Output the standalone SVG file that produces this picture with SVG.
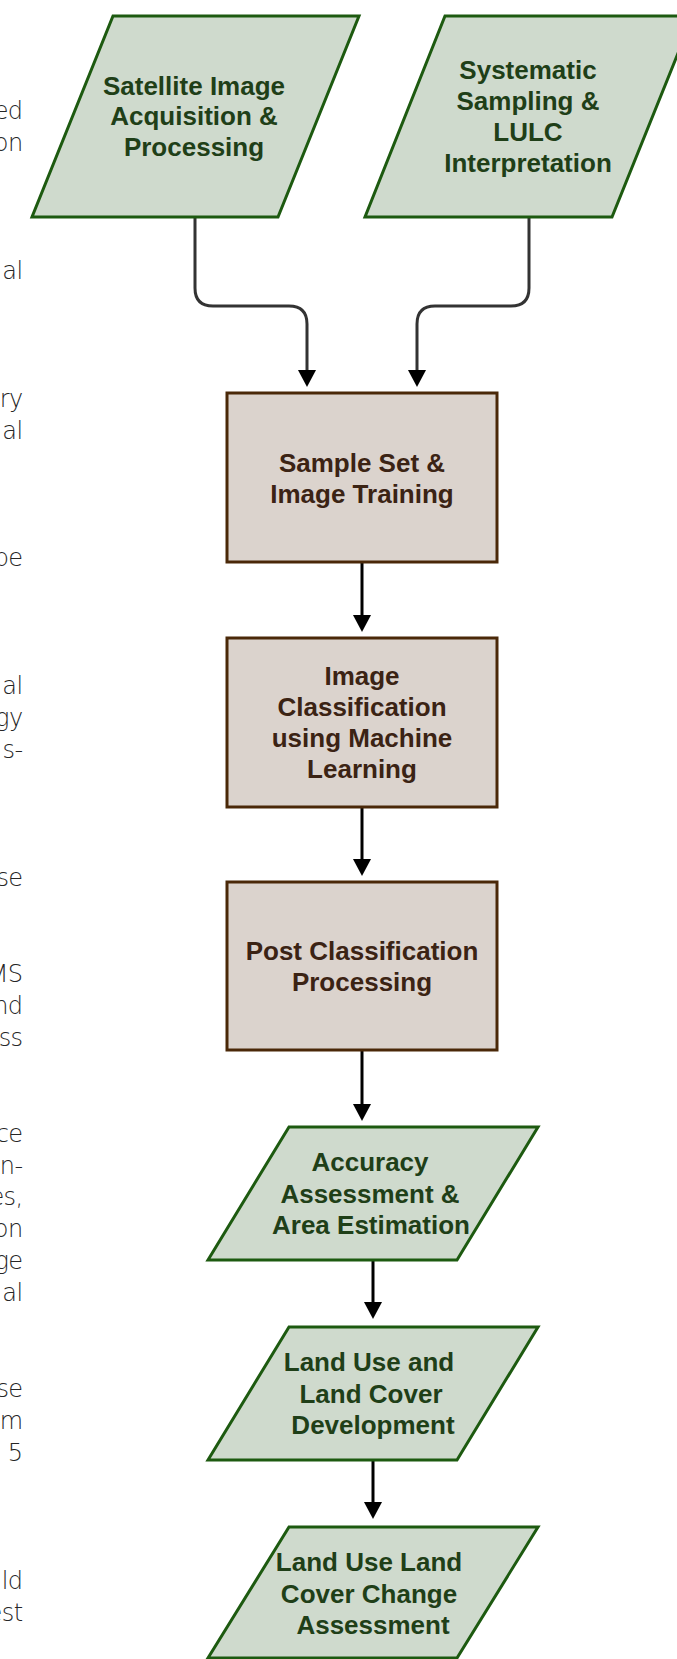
<svg xmlns="http://www.w3.org/2000/svg" width="677" height="1659" viewBox="0 0 677 1659">
<style>
.para{fill:#cfdacd;stroke:#1d5a10;stroke-width:3;stroke-linejoin:miter}
.box{fill:#dbd3cd;stroke:#4a2808;stroke-width:3}
.pt{font-family:"Liberation Sans",Arial,sans-serif;font-weight:bold;font-size:26px;fill:#1f3f18;text-anchor:middle}
.bt{font-family:"Liberation Sans",Arial,sans-serif;font-weight:bold;font-size:26px;fill:#3b2314;text-anchor:middle}
.frag{font-family:"DejaVu Sans",sans-serif;font-weight:300;font-size:24px;letter-spacing:-0.6px;fill:#262626;text-anchor:end}
.con{fill:none;stroke:#000;stroke-width:3}
.con2{fill:none;stroke:#333;stroke-width:3}
</style>
<defs>
<marker id="ah" markerUnits="userSpaceOnUse" markerWidth="20" markerHeight="20" refX="9" refY="9" orient="auto">
<path d="M0,0 L17,9 L0,18 z" fill="#000"/>
</marker>
</defs>
<rect width="677" height="1659" fill="#fff"/>
<g id="page-text">
<text class="frag" x="22.5" y="119">ed</text>
<text class="frag" x="22.5" y="151">on</text>
<text class="frag" x="22.5" y="279">al</text>
<text class="frag" x="22.5" y="406.5">ry</text>
<text class="frag" x="22.5" y="438.5">al</text>
<text class="frag" x="22.5" y="566">be</text>
<text class="frag" x="22.5" y="694">al</text>
<text class="frag" x="22.5" y="726">gy</text>
<text class="frag" x="22.5" y="758">s-</text>
<text class="frag" x="22.5" y="886">se</text>
<text class="frag" x="22.5" y="981.5">MS</text>
<text class="frag" x="22.5" y="1013.5">nd</text>
<text class="frag" x="22.5" y="1045.5">ss</text>
<text class="frag" x="22.5" y="1141.5">ce</text>
<text class="frag" x="22.5" y="1173.5">n-</text>
<text class="frag" x="22.5" y="1205">es,</text>
<text class="frag" x="22.5" y="1237">on</text>
<text class="frag" x="22.5" y="1269">ge</text>
<text class="frag" x="22.5" y="1301">al</text>
<text class="frag" x="22.5" y="1397">se</text>
<text class="frag" x="22.5" y="1429">m</text>
<text class="frag" x="22.5" y="1461">5</text>
<text class="frag" x="22.5" y="1588.5">ld</text>
<text class="frag" x="22.5" y="1620.5">est</text>
</g>
<g id="connectors">
<path class="con2" d="M195,217 V288 Q195,306 213,306 H289 Q307,306 307,324 V379" marker-end="url(#ah)"/>
<path class="con2" d="M529,217 V288 Q529,306 511,306 H435 Q417,306 417,324 V379" marker-end="url(#ah)"/>
<path class="con" d="M362,562 V624" marker-end="url(#ah)"/>
<path class="con" d="M362,807 V868" marker-end="url(#ah)"/>
<path class="con" d="M362,1050 V1113" marker-end="url(#ah)"/>
<path class="con" d="M373,1260 V1311" marker-end="url(#ah)"/>
<path class="con" d="M373,1460 V1511" marker-end="url(#ah)"/>
</g>
<g id="satellite">
<polygon class="para" points="113,16 359,16 278,217 32,217"/>
<text class="pt" x="194" y="94.5">Satellite Image</text>
<text class="pt" x="194" y="125">Acquisition &amp;</text>
<text class="pt" x="194" y="155.5">Processing</text>
</g>
<g id="sampling">
<polygon class="para" points="445,16 693,16 612,217 365,217"/>
<text class="pt" x="528" y="79">Systematic</text>
<text class="pt" x="528" y="110">Sampling &amp;</text>
<text class="pt" x="528" y="141">LULC</text>
<text class="pt" x="528" y="172">Interpretation</text>
</g>
<g id="training">
<rect class="box" x="227" y="393" width="270" height="169"/>
<text class="bt" x="362" y="471.5">Sample Set &amp;</text>
<text class="bt" x="362" y="502.5">Image Training</text>
</g>
<g id="classification">
<rect class="box" x="227" y="638" width="270" height="169"/>
<text class="bt" x="362" y="685">Image</text>
<text class="bt" x="362" y="716">Classification</text>
<text class="bt" x="362" y="747">using Machine</text>
<text class="bt" x="362" y="778">Learning</text>
</g>
<g id="postclass">
<rect class="box" x="227" y="882" width="270" height="168"/>
<text class="bt" x="362" y="960">Post Classification</text>
<text class="bt" x="362" y="991">Processing</text>
</g>
<g id="accuracy">
<polygon class="para" points="289,1127 538,1127 457,1260 208,1260"/>
<text class="pt" x="370" y="1171">Accuracy</text>
<text class="pt" x="370" y="1202.5">Assessment &amp;</text>
<text class="pt" x="371" y="1234">Area Estimation</text>
</g>
<g id="lulc-dev">
<polygon class="para" points="289,1327 538,1327 457,1460 208,1460"/>
<text class="pt" x="369" y="1371">Land Use and</text>
<text class="pt" x="371" y="1402.5">Land Cover</text>
<text class="pt" x="373" y="1434">Development</text>
</g>
<g id="lulc-change">
<polygon class="para" points="289,1527 538,1527 457,1658 208,1658"/>
<text class="pt" x="369" y="1571">Land Use Land</text>
<text class="pt" x="369" y="1602.5">Cover Change</text>
<text class="pt" x="373" y="1634">Assessment</text>
</g>
</svg>
